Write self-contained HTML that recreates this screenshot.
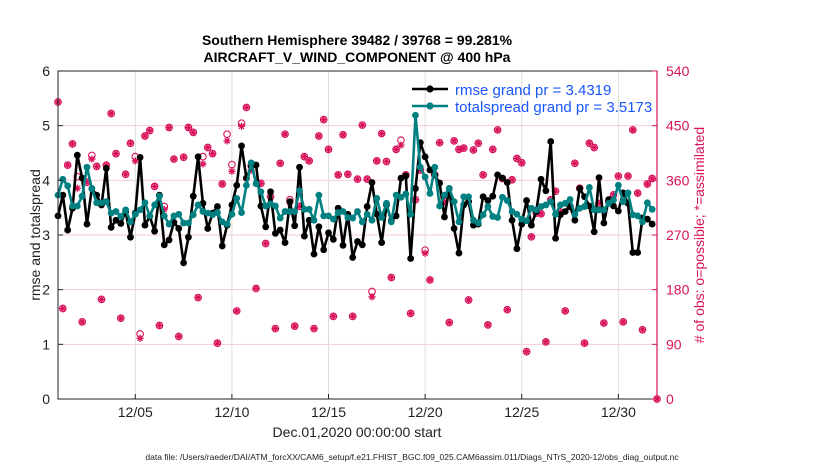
<!DOCTYPE html>
<html><head><meta charset="utf-8"><style>
body{margin:0;background:#fff;}
svg{display:block;font-family:"Liberation Sans",Arial,sans-serif;}
</style></head><body>
<svg id="chart" width="830" height="470" viewBox="0 0 830 470">
<rect width="830" height="470" fill="#fff"/>
<g id="grid"></g>
<g id="series"></g>
<g id="axes"></g>
</svg>
<script>
const xTicks=[5,10,15,20,25,30];
const xTickLabels=["12/05","12/10","12/15","12/20","12/25","12/30"];
const yTicks=[0,1,2,3,4,5,6];
const y2Ticks=[0,90,180,270,360,450,540];
const rmse=[3.35,3.73,3.09,3.49,4.46,4.04,3.20,3.85,3.73,3.55,4.22,3.14,3.27,3.21,3.43,2.96,3.40,4.42,3.18,3.34,3.07,3.73,2.82,2.91,3.23,3.12,2.49,2.96,3.71,4.43,3.58,3.12,3.40,3.52,2.80,3.18,3.55,3.91,4.63,4.04,4.25,4.28,3.53,3.15,
3.79,3.03,3.09,2.86,3.61,3.17,4.24,2.98,3.27,2.65,3.15,2.73,3.04,2.92,3.49,2.81,3.38,2.59,2.88,2.82,3.52,3.96,3.38,2.86,3.55,3.26,3.35,4.04,4.08,2.57,3.85,4.69,4.43,4.19,4.10,3.95,3.33,3.85,3.12,2.67,3.55,
3.61,3.18,3.20,3.70,3.63,3.71,4.10,4.04,3.96,3.27,2.75,3.20,3.63,3.18,3.43,4.02,3.81,4.71,2.94,3.37,3.43,3.52,3.27,3.85,3.70,3.53,3.06,4.05,3.22,3.65,3.53,3.44,3.77,3.58,2.68,2.68,3.31,3.29,3.20,null];
const spread=[3.73,4.02,3.90,3.53,3.53,3.71,4.24,3.85,3.59,3.59,3.61,3.40,3.43,3.34,3.46,3.24,3.38,3.46,3.59,3.35,3.55,3.71,3.35,3.20,3.35,3.38,3.22,3.22,3.37,3.55,3.43,3.40,3.37,3.41,3.24,3.20,3.38,3.67,3.41,3.91,4.32,3.94,3.79,3.53,
3.57,3.53,3.31,3.43,3.43,3.43,3.81,3.47,3.47,3.27,3.73,3.35,3.35,3.29,3.41,3.43,3.32,3.31,3.43,3.24,3.38,3.27,3.67,3.32,3.58,3.24,3.73,3.69,3.75,3.38,5.19,4.24,4.06,3.76,4.24,3.53,3.73,3.85,3.61,3.24,3.70,
3.70,3.27,3.22,3.37,3.52,3.34,3.32,3.69,3.63,3.43,3.38,3.29,3.26,3.49,3.46,3.52,3.55,3.61,3.38,3.55,3.58,3.65,3.38,3.49,3.52,3.87,3.46,3.46,3.46,3.58,3.64,3.91,3.61,3.77,3.37,3.35,3.24,3.59,3.47,null];
const obsPossible=[489,149,385,420,366,127,357,401,383,164,385,470,404,133,370,421,399,107,433,442,350,121,317,447,395,103,398,447,439,167,399,414,404,92,354,436,386,145,454,480,384,182,355,256,
333,116,388,436,328,120,317,399,392,116,433,460,411,136,369,435,370,136,362,451,362,177,392,437,391,200,411,426,369,141,328,377,245,196,369,422,325,126,425,411,413,
163,410,421,369,122,411,443,363,147,361,396,389,78,267,306,305,94,328,342,308,145,317,388,347,92,421,414,322,125,325,336,367,127,367,443,339,114,354,363,0];
const obsAssim=[489,149,385,420,347,127,357,395,383,164,385,470,404,133,370,421,392,100,433,442,350,121,312,447,395,103,398,447,439,167,387,414,404,92,354,425,375,145,449,480,377,182,355,256,
333,116,388,436,323,120,317,399,392,116,433,460,411,136,369,435,370,136,362,451,362,168,392,437,391,200,411,418,369,141,328,377,240,196,369,422,325,126,425,411,413,
163,410,421,369,122,411,443,363,147,361,396,389,78,267,306,305,94,328,342,308,145,317,388,347,92,421,414,322,125,325,336,367,127,367,443,339,114,354,363,0];

const NS="http://www.w3.org/2000/svg";
const L=58,R=657,T=71,B=399;
const xs=d=>L+(d-1)/31*(R-L);
const ys=v=>B-v/6*(B-T);
const ys2=n=>B-n/540*(B-T);
const tDay=i=>1+i*0.25;
function mk(tag,attrs,parent){const e=document.createElementNS(NS,tag);for(const k in attrs)e.setAttribute(k,attrs[k]);parent.appendChild(e);return e;}
const grid=document.getElementById('grid'),ser=document.getElementById('series'),ax=document.getElementById('axes');

y2Ticks.forEach((t,i)=>{
  if(t===0||t===540)return;
  const g=mk('line',{x1:L,x2:R,y1:ys2(t),y2:ys2(t),stroke:'#f4c9d8','stroke-width':1},grid);
  
  
});
xTicks.forEach(t=>{
  const g=mk('line',{x1:xs(t),x2:xs(t),y1:T,y2:B,stroke:'#dcdcdc','stroke-width':1},grid);
  
  
});

const obsG=mk('g',{},ser);


const pink='#d8135b';
obsPossible.forEach((n,i)=>{
  const c=mk('circle',{cx:xs(tDay(i)),cy:ys2(n),r:3.3,fill:'none',stroke:pink,'stroke-width':1.1},obsG);
  
  
});
obsAssim.forEach((n,i)=>{
  const x=xs(tDay(i)),y=ys2(n),r=3.6;
  const a=mk('path',{d:`M${x-r},${y}H${x+r}M${x},${y-r}V${y+r}M${x-r*0.7},${y-r*0.7}L${x+r*0.7},${y+r*0.7}M${x-r*0.7},${y+r*0.7}L${x+r*0.7},${y-r*0.7}`,stroke:pink,'stroke-width':1.3},obsG);
  
  
});

function drawSeries(arr,color,name){
  const g=mk('g',{},ser);
  
  
  let d='';arr.forEach((v,i)=>{if(v==null)return;d+=(d?'L':'M')+xs(tDay(i)).toFixed(1)+','+ys(v).toFixed(1);});
  const p=mk('path',{d:d,fill:'none',stroke:color,'stroke-width':2.6,'stroke-linejoin':'round'},g);
  
  
  arr.forEach((v,i)=>{if(v==null)return;
    const c=mk('circle',{cx:xs(tDay(i)),cy:ys(v),r:3.4,fill:color},g);
    
    
  });
}
drawSeries(rmse,'#000','rmse');
drawSeries(spread,'#008080','totalspread');

let e=mk('rect',{x:L,y:T,width:R-L,height:B-T,fill:'none',stroke:'#222','stroke-width':1},ax);

e=mk('line',{x1:R,x2:R,y1:T,y2:B,stroke:pink,'stroke-width':1.2},ax);

yTicks.forEach(t=>{
  mk('line',{x1:L,x2:L+5,y1:ys(t),y2:ys(t),stroke:'#222'},ax);
  const tx=mk('text',{x:L-8,y:ys(t)+5,'text-anchor':'end','font-size':14,fill:'#222'},ax);
  tx.textContent=t;
  
  
});
y2Ticks.forEach(t=>{
  mk('line',{x1:R-5,x2:R,y1:ys2(t),y2:ys2(t),stroke:pink},ax);
  const tx=mk('text',{x:R+9,y:ys2(t)+5,'font-size':14,fill:pink},ax);
  tx.textContent=t;
  
  
});
xTicks.forEach((t,i)=>{
  mk('line',{x1:xs(t),x2:xs(t),y1:B,y2:B-5,stroke:'#222'},ax);
  const tx=mk('text',{x:xs(t),y:B+18,'text-anchor':'middle','font-size':14,fill:'#222'},ax);
  tx.textContent=xTickLabels[i];
  
  
});
</script>
<div style="position:absolute;left:0;top:0;width:830px;height:470px;pointer-events:none">
<svg width="830" height="470" style="font-family:'Liberation Sans',Arial,sans-serif">
<text x="357" y="45" text-anchor="middle" font-size="14" font-weight="bold" fill="#000">Southern Hemisphere 39482 / 39768 = 99.281%</text>
<text x="357" y="62" text-anchor="middle" font-size="14" font-weight="bold" fill="#000">AIRCRAFT_V_WIND_COMPONENT @ 400 hPa</text>
<text transform="translate(40,235) rotate(-90)" text-anchor="middle" font-size="14" fill="#222">rmse and totalspread</text>
<text transform="translate(704,235) rotate(-90)" text-anchor="middle" font-size="14" fill="#d8135b"># of obs: o=possible; *=assimilated</text>
<text x="357" y="437" text-anchor="middle" font-size="14" fill="#222">Dec.01,2020 00:00:00 start</text>
<text x="412" y="460" text-anchor="middle" font-size="8.5" fill="#222">data file: /Users/raeder/DAI/ATM_forcXX/CAM6_setup/f.e21.FHIST_BGC.f09_025.CAM6assim.011/Diags_NTrS_2020-12/obs_diag_output.nc</text>
<g>
<g>
<line x1="412" x2="448" y1="89" y2="89" stroke="#000" stroke-width="2.6"/>
<circle cx="430" cy="89" r="3.6" fill="#000"/>
<text x="455" y="95" font-size="15" fill="#1a56ff">rmse grand pr = 3.4319</text>
</g>
<g>
<line x1="412" x2="448" y1="106" y2="106" stroke="#008080" stroke-width="2.6"/>
<circle cx="430" cy="106" r="3.6" fill="#008080"/>
<text x="455" y="112" font-size="15" fill="#1a56ff">totalspread grand pr = 3.5173</text>
</g>
</g>
</svg>
</div>
</body></html>
